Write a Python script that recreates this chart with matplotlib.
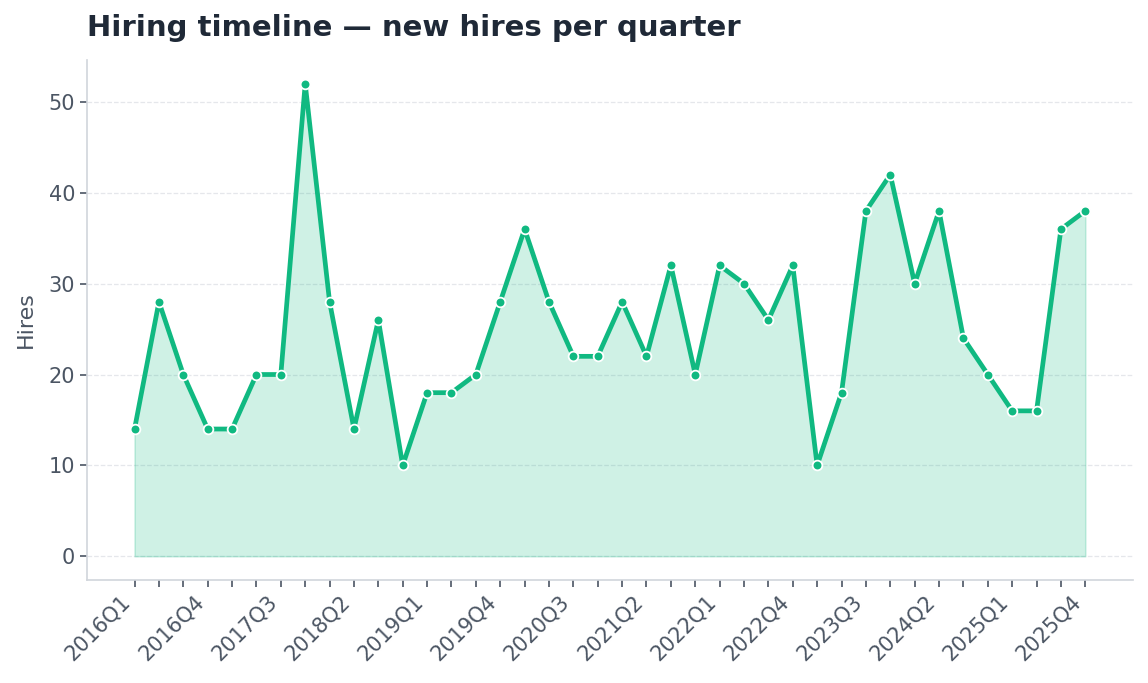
import matplotlib.pyplot as plt
import numpy as np

quarters = [f"{y}Q{q}" for y in range(2016, 2026) for q in range(1, 5)]
hires = [14, 28, 20, 14, 14, 20, 20, 52, 28, 14,
         26, 10, 18, 18, 20, 28, 36, 28, 22, 22,
         28, 22, 32, 20, 32, 30, 26, 32, 10, 18,
         38, 42, 30, 38, 24, 20, 16, 16, 36, 38]

green = "#10b981"
dark = "#1f2937"
gray = "#4b5563"

fig = plt.figure(figsize=(11.48, 6.83), dpi=100)
ax = fig.add_axes([0.0758, 0.151, 0.911, 0.761])

x = np.arange(len(quarters))
ax.fill_between(x, hires, 0, color=green, alpha=0.2, linewidth=1.2)
ax.plot(x, hires, color=green, linewidth=3.4, marker="o", markersize=7,
        markerfacecolor=green, markeredgecolor="white", markeredgewidth=1.3,
        zorder=3)

ax.set_xticks(x)
ax.set_xticklabels([q if i % 3 == 0 else "" for i, q in enumerate(quarters)],
                   rotation=45, ha="right")
ax.set_yticks([0, 10, 20, 30, 40, 50])
ax.tick_params(axis="both", colors=gray, labelsize=15, length=5, width=1.2,
               labelcolor=gray)
ax.grid(axis="y", linestyle="--", color="#e5e7eb", linewidth=0.9)
ax.set_axisbelow(True)

for s in ["top", "right"]:
    ax.spines[s].set_visible(False)
for s in ["left", "bottom"]:
    ax.spines[s].set_color("#d1d5db")
    ax.spines[s].set_linewidth(1.2)

ax.set_ylabel("Hires", fontsize=16, color=gray, labelpad=9)
ax.set_title("Hiring timeline — new hires per quarter", loc="left",
             fontsize=21, fontweight="bold", color=dark, pad=17)

fig.savefig("out.png", dpi=100)
